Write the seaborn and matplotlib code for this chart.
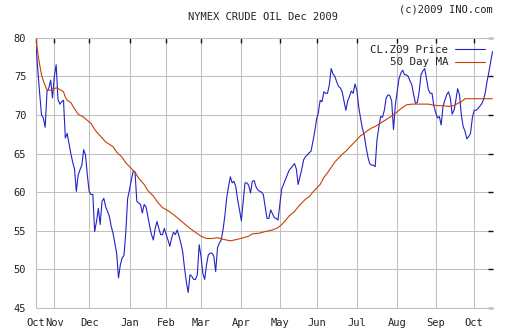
import numpy as np
import pandas as pd
import matplotlib
matplotlib.use("Agg")
import matplotlib.pyplot as plt
import seaborn as sns

# ---- data ----
price = [79.0, 75.8, 72.8, 70.0, 69.6, 68.4, 73.0, 73.5, 74.5, 72.2,
         75.0, 76.5, 72.0, 71.4, 71.7, 71.9, 67.0, 67.6, 66.3, 65.0,
         63.9, 63.0, 60.1, 62.2, 62.9, 63.5, 65.5, 64.8, 62.2, 60.1,
         59.7, 59.7, 54.9, 56.2, 57.9, 55.8, 58.8, 59.2, 58.1, 57.5,
         56.9, 55.6, 54.7, 53.4, 52.1, 48.9, 50.6, 51.5, 51.8, 54.9,
         59.2, 60.3, 61.6, 62.7, 62.6, 58.8, 58.6, 58.4, 57.3, 58.4,
         58.1, 56.9, 55.6, 54.5, 53.8, 55.3, 56.2, 55.3, 54.5, 54.5,
         55.3, 54.5, 53.8, 53.0, 54.1, 54.8, 54.5, 55.1, 54.3, 53.4,
         52.3, 50.2, 48.4, 47.0, 49.3, 49.1, 48.7, 48.7, 49.3, 53.2,
         51.7, 49.5, 48.7, 50.6, 51.9, 52.1, 52.1, 51.7, 49.7, 52.8,
         53.4, 53.8, 55.1, 56.9, 59.2, 60.7, 62.0, 61.2, 61.4, 60.7,
         59.0, 57.7, 56.3, 58.8, 61.2, 61.2, 60.9, 59.9, 61.4, 61.5,
         60.7, 60.3, 60.1, 60.0, 59.7, 58.1, 56.6, 56.6, 57.7, 57.2,
         56.7, 56.6, 56.4, 58.4, 60.4, 61.0, 61.6, 62.2, 62.8, 63.1,
         63.4, 63.7, 63.0, 61.0, 62.0, 63.0, 64.2, 64.6, 64.8, 65.1,
         65.3, 66.5, 67.8, 69.4, 70.3, 71.9, 71.7, 73.0, 72.8, 72.8,
         73.9, 76.0, 75.3, 75.0, 74.3, 73.7, 73.5, 73.0, 71.8, 70.6,
         71.8, 72.4, 73.1, 72.8, 74.0, 73.2, 71.1, 69.6, 68.3, 67.4,
         65.9, 64.6, 63.7, 63.5, 63.5, 63.3, 66.8, 68.4, 69.8, 69.7,
         70.6, 72.2, 72.6, 72.5, 71.8, 68.1, 71.3, 73.0, 74.7, 75.4,
         75.8, 75.2, 75.2, 75.0, 74.4, 73.9, 72.6, 71.5, 71.6, 73.0,
         75.2, 75.7, 76.0, 74.7, 73.3, 72.8, 72.8, 71.2, 70.3, 69.6,
         69.8, 68.7, 71.1, 71.9, 72.6, 73.0, 72.2, 70.1, 70.6, 71.9,
         73.4, 72.6, 70.0, 68.5, 67.9, 66.9, 67.2, 67.6, 69.6, 70.6,
         70.6, 70.8, 71.1, 71.4, 71.9, 72.8, 74.3, 75.5, 76.9, 78.2]

ma_day = [0, 1, 2, 3, 4, 5, 6, 8, 10, 11, 13, 15, 16, 17, 19, 21, 23, 26, 28, 30,
          31, 33, 35, 38, 42, 44, 47, 49, 51, 54, 56, 59, 61, 64, 66, 69, 72, 75,
          78, 81, 84, 87, 90, 93, 96, 99, 102, 106, 110, 113, 116, 118, 122, 125,
          129, 132, 134, 136, 138, 141, 143, 145, 147, 149, 151, 153, 155, 157,
          159, 161, 163, 165, 167, 169, 171, 173, 175, 177, 179, 181, 183, 185,
          187, 189, 191, 195, 199, 202, 205, 208, 211, 214, 216, 219, 222, 225,
          228, 230, 232, 234, 236, 240, 244, 249]
ma_value = [80.0, 78.0, 76.5, 75.2, 74.4, 73.8, 73.2, 73.2, 73.4, 73.5, 73.3, 73.0,
            72.3, 71.9, 71.6, 70.8, 70.1, 69.7, 69.3, 68.9, 68.5, 67.8, 67.3, 66.5,
            65.9, 65.2, 64.5, 63.8, 63.3, 62.6, 61.8, 61.0, 60.2, 59.5, 58.8, 58.0,
            57.6, 57.1, 56.5, 55.9, 55.3, 54.8, 54.3, 54.0, 54.0, 54.1, 53.9, 53.7,
            53.9, 54.1, 54.3, 54.6, 54.7, 54.9, 55.1, 55.4, 55.8, 56.3, 56.9, 57.5,
            58.1, 58.6, 59.1, 59.4, 60.0, 60.5, 61.0, 61.9, 62.5, 63.2, 63.9, 64.4,
            64.9, 65.3, 65.8, 66.3, 66.8, 67.3, 67.6, 68.0, 68.3, 68.5, 68.8, 69.1,
            69.4, 70.0, 70.8, 71.3, 71.4, 71.4, 71.4, 71.4, 71.3, 71.2, 71.2, 71.1,
            71.2, 71.5, 71.7, 72.1, 72.1, 72.1, 72.1, 72.1]

month_day = [0, 10, 29, 51, 71, 90, 112, 133, 153, 175, 197, 218, 239]
month_label = ["Oct", "Nov", "Dec", "Jan", "Feb", "Mar", "Apr", "May",
               "Jun", "Jul", "Aug", "Sep", "Oct"]
y_ticks = [45, 50, 55, 60, 65, 70, 75, 80]

# ---- plotting ----
sns.set_style("white")
plt.rcParams['font.family'] = ['DejaVu Sans Mono', 'DejaVu Sans']

fig = plt.figure(figsize=(5.12, 3.35), dpi=100)
ax = fig.add_axes([36 / 512, 1 - 308 / 335, (492.5 - 36) / 512, (308 - 37.7) / 335])

df_price = pd.DataFrame({"day": np.arange(len(price)), "value": price})
df_ma = pd.DataFrame({"day": ma_day, "value": ma_value})

blue = "#2323c8"
orange = "#c84000"
sns.lineplot(data=df_price, x="day", y="value", ax=ax, color=blue, lw=0.8,
             label="CL.Z09 Price", zorder=3)
sns.lineplot(data=df_ma, x="day", y="value", ax=ax, color=orange, lw=0.8,
             label="50 Day MA", zorder=3)

ax.set_xlim(0, 249)
ax.set_ylim(45, 80)
ax.set_xticks(month_day)
ax.set_xticklabels(month_label)
ax.set_yticks(y_ticks)
ax.set_yticklabels([str(v) for v in y_ticks])
ax.set_xlabel("")
ax.set_ylabel("")

ax.grid(True, color="#c0c0c0", lw=0.75, zorder=0)
for side in ["left", "bottom", "top"]:
    ax.spines[side].set_color("#c0c0c0")
    ax.spines[side].set_linewidth(0.75)
ax.spines["right"].set_visible(False)

ax.tick_params(axis="both", direction="in", length=3.5, width=1.0, color="#111111",
               labelsize=7.5, labelcolor="#222222", top=True, right=True,
               pad=7, zorder=5)

leg = ax.legend(loc="upper right", bbox_to_anchor=(1.0, 1.0), frameon=False,
                markerfirst=False, fontsize=7.8, handlelength=2.8,
                handletextpad=0.6, labelspacing=0.2, borderaxespad=0.3)
for t in leg.get_texts():
    t.set_color("#222222")

fig.text(263 / 512, 1 - 17 / 335, "NYMEX CRUDE OIL Dec 2009", ha="center",
         va="center", fontsize=7.5, color="#222222")
fig.text(493 / 512, 1 - 10 / 335, "(c)2009 INO.com", ha="right", va="center",
         fontsize=7.5, color="#222222")

fig.savefig("out.png", dpi=100, facecolor="white")
